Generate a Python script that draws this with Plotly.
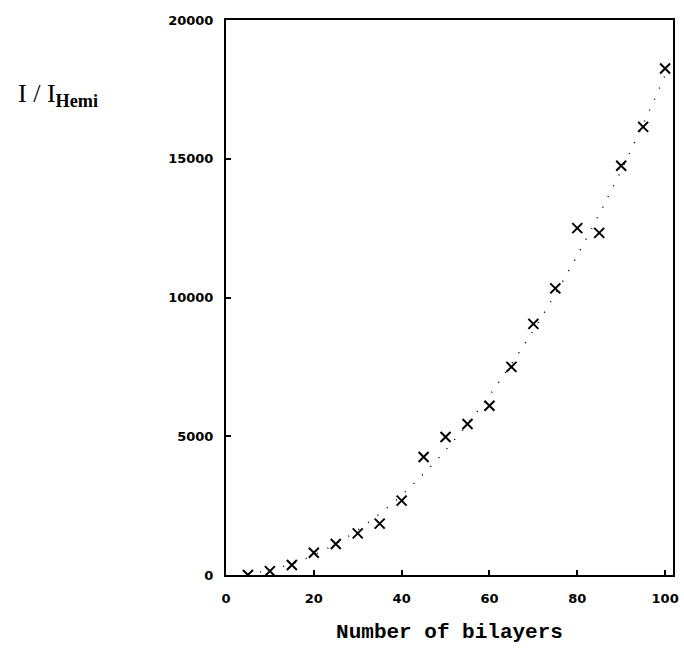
import plotly.graph_objects as go

bilayers = [5, 10, 15, 20, 25, 30, 35, 40, 45, 50, 55, 60, 65, 70, 75, 80, 85, 90, 95, 100]
intensity = [0, 140, 360, 800, 1120, 1500, 1850, 2680, 4250, 4970, 5440, 6100, 7500, 9050, 10330, 12500, 12330, 14750, 16150, 18250]

fit_x = [5, 10, 15, 20, 25, 30, 35, 40, 45, 50, 55, 60, 65, 70, 75, 80, 85, 90, 95, 100]
fit_y = [45, 180, 405, 720, 1125, 1620, 2205, 2880, 3645, 4500, 5445, 6480, 7605, 8820, 10125, 11520, 13005, 14580, 16245, 18000]

x_ticks = [0, 20, 40, 60, 80, 100]
y_ticks = [0, 5000, 10000, 15000, 20000]
y_tick_text = ["0", "5000", "10000", "15000", "20000"]

fig = go.Figure()
fig.add_trace(go.Scatter(
    x=fit_x, y=fit_y, mode="lines", line_shape="spline",
    line=dict(color="black", width=1.5, dash="1px,11px"),
    showlegend=False, hoverinfo="skip"))
fig.add_trace(go.Scatter(
    x=bilayers, y=intensity, mode="markers",
    marker=dict(symbol="x-thin", size=10, line=dict(color="black", width=2)),
    showlegend=False))

tickfont = dict(family="DejaVu Sans", size=13, color="black", weight="bold")
fig.update_xaxes(range=[0, 101.8], tickvals=x_ticks, ticks="inside", ticklen=5,
                 tickwidth=1.5, tickcolor="black", showline=True, linecolor="black",
                 linewidth=2, mirror=True, showgrid=False, zeroline=False,
                 tickfont=tickfont, ticklabelstandoff=10,
                 title=dict(text="Number of bilayers",
                            font=dict(family="Liberation Mono", size=21, color="black", weight="bold"),
                            standoff=19))
fig.update_yaxes(range=[0, 20000], tickvals=y_ticks, ticktext=y_tick_text,
                 ticks="inside", ticklen=5,
                 tickwidth=1.5, tickcolor="black", showline=True, linecolor="black",
                 linewidth=2, mirror=True, showgrid=False, zeroline=False,
                 tickfont=tickfont, ticklabelstandoff=8)
fig.add_annotation(
    text="I / I<sub><b>Hemi</b></sub>", xref="paper", yref="paper",
    x=-0.47, y=0.897, xanchor="left", yanchor="top", showarrow=False,
    font=dict(family="Liberation Serif", size=26, color="black"))
fig.update_layout(width=684, height=649, margin=dict(l=226, r=5, t=20, b=74),
                  plot_bgcolor="white", paper_bgcolor="white")
fig.write_html("out.html")
